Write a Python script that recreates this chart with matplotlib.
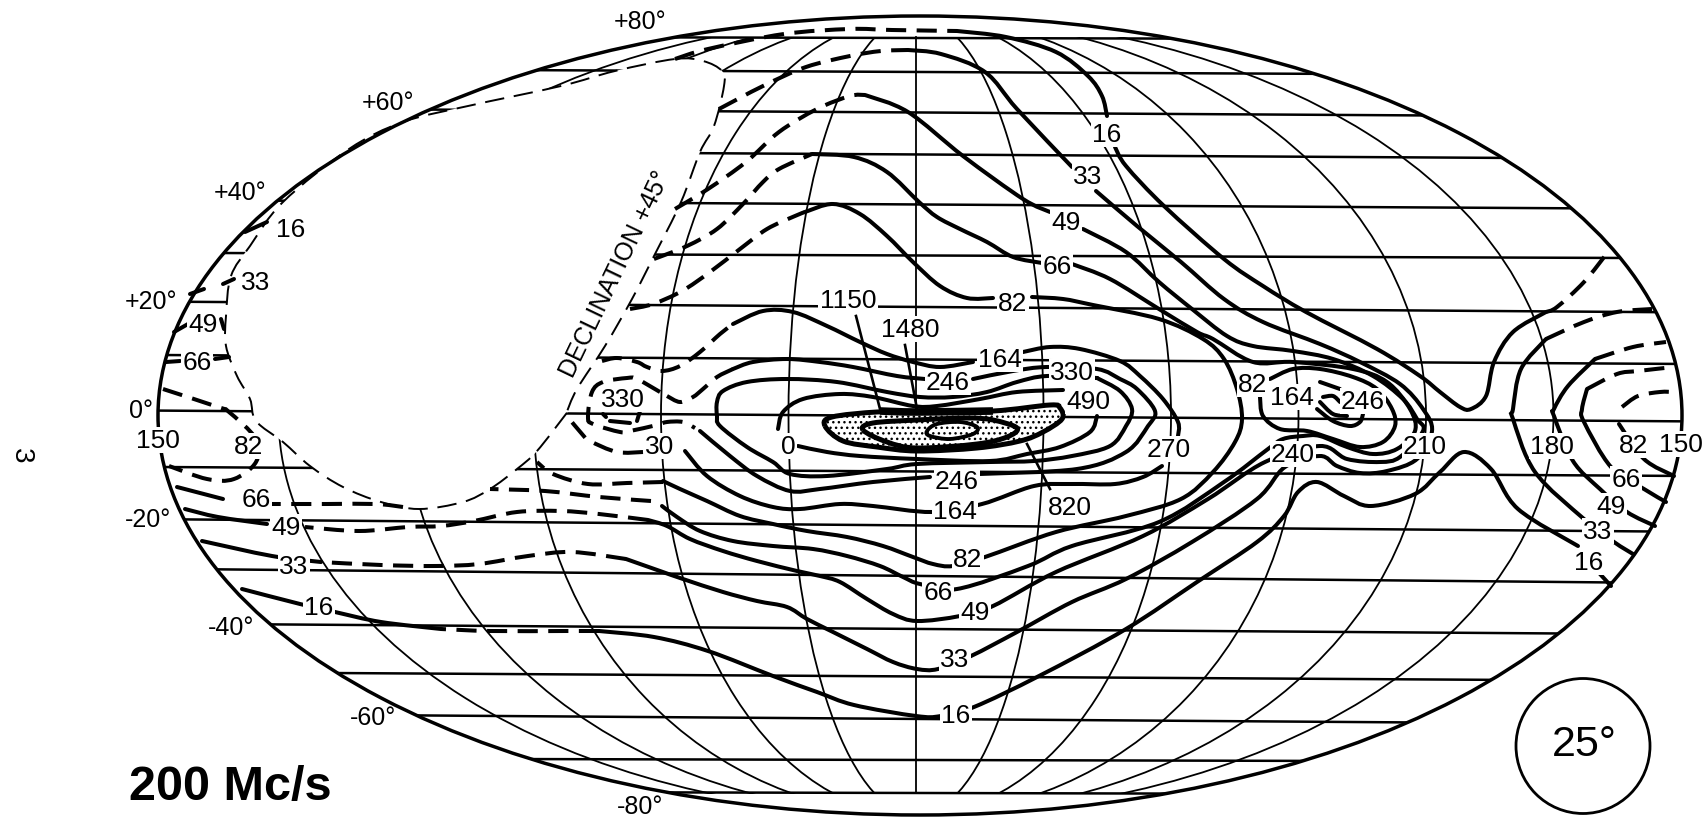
import matplotlib
matplotlib.use("Agg")
import matplotlib.pyplot as plt
from matplotlib.patches import Ellipse, PathPatch, Rectangle
from matplotlib.path import Path

plt.rcParams['font.family'] = ['Liberation Sans', 'DejaVu Sans']
plt.rcParams['hatch.linewidth'] = 1.0

# map graticule, all in scan pixels
lat_left = [38, 71, 111, 153, 203, 255, 305, 358, 414, 470, 523, 573, 627, 675, 717, 760, 793]
lat_right = [40, 75, 116, 158, 208, 258, 311, 363, 420, 475, 530, 581, 633, 680, 723, 762, 795]
meridian_steps = [127.5, 255, 382.5, 510, 637.5]

# blank part of the sky that the survey did not reach
unobserved = [(675, 60), (703, 62), (722, 72), (724, 87), (714, 127), (700, 153), (681, 203), (654, 257),
              (632, 300), (605, 347), (577, 390), (566, 415), (566, 415), (537, 452), (517, 470), (490, 490),
              (463, 503), (419, 510), (381, 503), (343, 488), (310, 467), (283, 443), (256, 422), (250, 400),
              (237, 377), (226, 347), (226, 317), (231, 277), (250, 247), (283, 203), (349, 150), (403, 123),
              (468, 107), (561, 87), (615, 72), (675, 60)]

# contour 16
c16_top_dash = [(675, 60), (708, 50), (784, 35), (850, 30), (892, 31), (957, 32)]
c16_top = [(957, 32), (1006, 38), (1056, 53), (1088, 77), (1102, 97), (1107, 117)]
c16_run = [(1115, 148), (1126, 167), (1164, 207), (1224, 260), (1263, 287), (1306, 313), (1377, 350), (1420, 377),
           (1440, 393), (1460, 408), (1471, 410), (1486, 397), (1494, 363), (1513, 333), (1546, 313)]
c16_run_dash = [(1546, 313), (1557, 308), (1584, 283), (1608, 253)]
c16_low = [(1611, 587), (1600, 575)]
c16_bottom = [(1578, 547), (1518, 510), (1491, 470), (1464, 453), (1440, 473), (1415, 495), (1371, 507), (1344, 497),
              (1317, 483), (1298, 493), (1284, 517), (1257, 543), (1197, 583), (1126, 630), (1039, 677), (974, 708),
              (941, 717), (916, 717), (854, 706), (817, 693), (773, 677), (708, 652), (654, 638), (599, 632)]
c16_bottom_dash = [(599, 632), (566, 632), (490, 632), (441, 630)]
c16_left = [(441, 630), (381, 623), (335, 613), (300, 605), (242, 590)]
c16_tick = [(245, 233), (267, 223)]

# contour 33
c33_top_dash = [(719, 110), (763, 87), (806, 68), (850, 57), (881, 52), (908, 51)]
c33_top = [(908, 51), (941, 55), (985, 73), (1017, 110), (1072, 168)]
c33_run = [(1096, 192), (1137, 227), (1181, 263), (1224, 300), (1263, 323), (1320, 345), (1360, 363), (1400, 385),
           (1423, 410), (1432, 432), (1417, 460), (1387, 472), (1360, 474), (1337, 467), (1320, 457), (1285, 468),
           (1257, 500), (1192, 543), (1126, 580), (1072, 603), (1017, 633), (971, 657), (938, 670), (917, 670),
           (893, 663), (867, 650), (833, 633), (807, 620), (787, 608), (757, 602), (723, 593), (683, 580),
           (660, 572), (626, 560)]
c33_dash = [(626, 560), (572, 553), (528, 557), (479, 565), (436, 567), (381, 566), (321, 563)]
c33_left = [(321, 563), (272, 557), (202, 542)]
c33_right = [(1546, 340), (1521, 370), (1513, 410), (1513, 420), (1535, 473), (1584, 520), (1614, 543), (1633, 555)]
c33_right_dash = [(1546, 340), (1584, 323), (1617, 313), (1652, 310)]
c33_tick_a = [(190, 295), (204, 290)]
c33_tick_b = [(223, 285), (234, 280)]

# contour 49
c49_top_dash = [(675, 210), (708, 190), (746, 163), (779, 133), (817, 110), (850, 97), (865, 96)]
c49_top = [(865, 96), (908, 113), (963, 157), (1023, 200), (1050, 213)]
c49_run = [(1083, 230), (1126, 253), (1159, 283), (1192, 310), (1227, 337), (1253, 347), (1293, 352), (1333, 360),
           (1373, 377), (1403, 400), (1417, 420), (1423, 432), (1400, 458), (1380, 463), (1347, 460), (1320, 447),
           (1265, 463), (1208, 500), (1143, 537), (1056, 573), (993, 607), (960, 617), (917, 622), (893, 615),
           (867, 600), (840, 583), (820, 577), (797, 572), (757, 562), (723, 552), (690, 540), (667, 527), (648, 521)]
c49_dash = [(648, 521), (599, 515), (561, 512), (517, 513), (474, 522), (441, 527), (408, 528), (359, 532), (305, 528)]
c49_left = [(267, 525), (218, 518), (185, 510)]
c49_right = [(1595, 360), (1568, 387), (1554, 410), (1554, 417), (1573, 462), (1600, 490), (1627, 513), (1655, 527)]
c49_right_dash = [(1595, 360), (1633, 348), (1666, 343)]
c49_tick_a = [(174, 333), (188, 325)]
c49_tick_b = [(221, 320), (224, 330)]

# contour 66
c66_top_dash = [(654, 260), (687, 247), (717, 230), (743, 205), (763, 183), (779, 170), (812, 155)]
c66_top = [(812, 155), (854, 158), (887, 173), (919, 203), (937, 218), (960, 230), (987, 243), (1013, 258), (1042, 264)]
c66_run = [(1072, 265), (1110, 280), (1159, 310), (1197, 333), (1213, 340), (1253, 363), (1293, 363), (1353, 370),
           (1387, 383), (1410, 410), (1415, 432), (1397, 450), (1373, 455), (1347, 448), (1320, 437), (1303, 437),
           (1283, 440), (1268, 450), (1224, 483), (1159, 523), (1072, 547), (1028, 567), (957, 590), (920, 585),
           (903, 578), (880, 567), (847, 557), (813, 550), (773, 547), (733, 542), (700, 532), (677, 518), (662, 507)]
c66_dash = [(651, 502), (599, 498), (545, 492), (490, 490)]
c66_left_dash = [(403, 508), (376, 505), (327, 505), (272, 505)]
c66_left = [(223, 500), (177, 488)]
c66_right = [(1587, 390), (1582, 410), (1584, 423), (1611, 468), (1644, 490), (1666, 503)]
c66_right_dash = [(1587, 390), (1617, 375), (1638, 372), (1674, 368)]
c66_tick_a = [(166, 363), (180, 362)]
c66_tick_b = [(215, 360), (229, 358)]

# contour 82
c82_top_dash = [(630, 310), (653, 305), (682, 292), (710, 273), (740, 250), (767, 230), (795, 217), (805, 213)]
c82_top = [(805, 213), (833, 205), (860, 215), (887, 237), (913, 263), (940, 287), (967, 299), (993, 299)]
c82_run = [(1032, 298), (1063, 300), (1093, 306), (1159, 320), (1203, 340), (1224, 360), (1237, 390), (1242, 420),
           (1235, 443), (1213, 473), (1181, 500), (1126, 517), (1056, 533), (985, 558), (953, 567), (933, 565),
           (913, 558), (883, 547), (847, 538), (807, 532), (773, 525), (740, 517), (707, 502), (680, 490), (663, 482)]
c82_dash = [(663, 483), (627, 484), (588, 485), (553, 475), (537, 463)]
c82_left_dash = [(163, 390), (218, 408), (229, 413), (256, 440), (256, 463), (234, 480), (207, 480), (169, 467)]
c82_right_dash = [(1622, 408), (1638, 397), (1660, 393), (1674, 393)]
c82_right_low = [(1619, 425), (1644, 460), (1674, 477)]
c82_loop = [(1260, 398), (1263, 417), (1280, 430), (1307, 432), (1333, 440), (1360, 448), (1383, 443), (1395, 427),
            (1392, 410), (1377, 390), (1353, 378), (1320, 370), (1293, 370), (1270, 380)]

# contour 164
c164_dash = [(602, 362), (617, 359), (637, 363), (647, 368), (662, 372), (680, 367), (700, 353), (720, 335), (733, 325)]
c164_top = [(733, 325), (763, 312), (793, 313), (827, 327), (860, 343), (887, 355), (913, 363), (940, 368), (973, 363)]
c164_right = [(1023, 353), (1050, 348), (1080, 350), (1120, 362), (1140, 377), (1163, 400), (1178, 423), (1178, 437)]
c164_low = [(1162, 467), (1143, 478), (1115, 485), (1072, 485), (1034, 487), (982, 505), (932, 513), (873, 507),
            (840, 505), (800, 510), (773, 508), (740, 497), (707, 477), (685, 452)]
c164_left_dash = [(643, 453), (617, 453), (590, 442), (582, 435), (567, 417)]

# contour 246
c246_top = [(925, 380), (897, 377), (853, 368), (820, 363), (787, 360), (753, 363), (733, 370)]
c246_dash_a = [(733, 370), (717, 378), (703, 390), (693, 398), (680, 403), (667, 397)]
c246_dash_b = [(660, 393), (637, 380), (627, 379), (603, 383), (592, 393), (588, 418), (593, 425), (620, 433),
               (630, 432), (657, 426), (667, 423), (683, 423), (695, 429)]
c246_low = [(700, 432), (730, 457), (757, 477), (790, 492), (820, 490), (873, 483), (930, 478)]
c246_right = [(973, 380), (1013, 372), (1047, 368), (1097, 370), (1120, 380), (1137, 390), (1155, 412), (1148, 427),
              (1126, 453), (1077, 470), (979, 475)]
c246_spot_a = [(1320, 383), (1340, 390)]
c246_spot_b = [(1323, 398), (1333, 397), (1340, 403)]
c246_spot_c = [(1317, 410), (1333, 422), (1350, 427), (1360, 423), (1363, 415)]
c246_spot_d = [(1320, 403), (1333, 415), (1347, 417)]

# contour 330, 490
c330_loop = [(1097, 379), (1047, 377), (1017, 383), (987, 393), (953, 398), (920, 398), (887, 393), (837, 383),
             (787, 380), (747, 383), (723, 392), (717, 403), (717, 417), (720, 427), (747, 448), (773, 463),
             (790, 475), (827, 477), (887, 470), (917, 465), (990, 463), (1034, 462), (1072, 457), (1110, 447),
             (1126, 427), (1132, 410), (1120, 392), (1097, 379)]
c330_spot_a = [(603, 415), (606, 418)]
c330_spot_b = [(640, 412), (637, 422)]
c330_spot_c = [(610, 422), (630, 424)]
c490_loop = [(778, 430), (783, 413), (803, 400), (840, 395), (873, 398), (913, 407), (937, 407), (980, 400),
             (1017, 393), (1063, 391)]
c490_low = [(798, 447), (827, 453), (860, 457), (917, 460), (990, 462), (1027, 455), (1060, 448), (1090, 433), (1097, 417)]

# stippled core
c820_core = [(825, 427), (832, 418), (877, 413), (917, 413), (993, 412), (1050, 406), (1060, 409), (1062, 420),
             (1043, 433), (1020, 442), (977, 449), (917, 452), (877, 448), (843, 442)]
c820_rim = [(880, 412), (917, 413), (993, 412)]
c1150_core = [(863, 431), (873, 424), (917, 421), (967, 419), (993, 421), (1017, 429), (1007, 438), (977, 445),
              (917, 449), (887, 443)]
c1480_core = [(927, 432), (937, 425), (960, 423), (977, 428), (973, 435), (950, 440), (930, 437)]

# lines from a label to its contour
pointer_1150 = [(856, 317), (880, 410)]
pointer_1480 = [(905, 346), (917, 410)]
pointer_820 = [(1027, 445), (1050, 490)]

solid_lines = [c16_top, c16_run, c16_low, c16_bottom, c16_left, c16_tick, c33_top, c33_run, c33_left, c33_right,
               c33_tick_a, c33_tick_b, c49_top, c49_run, c49_left, c49_right, c49_tick_a, c49_tick_b,
               c66_top, c66_run, c66_left, c66_right, c66_tick_a, c66_tick_b, c82_top, c82_run, c82_right_low,
               c82_loop, c164_top, c164_right, c164_low, c246_top, c246_low, c246_right, c246_spot_c, c246_spot_d,
               c330_loop, c490_loop, c490_low]
dashed_lines = [c16_top_dash, c16_run_dash, c16_bottom_dash, c33_top_dash, c33_dash, c33_right_dash, c49_top_dash,
                c49_dash, c49_right_dash, c66_top_dash, c66_dash, c66_left_dash, c66_right_dash, c82_top_dash,
                c82_dash, c82_left_dash, c82_right_dash, c164_dash, c164_left_dash, c246_dash_a, c246_dash_b]
short_lines = [c246_spot_a, c246_spot_b, c330_spot_a, c330_spot_b, c330_spot_c]
pointers = [pointer_1150, pointer_1480, pointer_820]

# contour numbers
contour_labels = [("16", 1107, 135), ("33", 1088, 177), ("49", 1066, 223), ("66", 1057, 267), ("82", 1013, 304),
                  ("1150", 848, 301), ("1480", 910, 330), ("164", 1000, 360), ("246", 948, 383), ("330", 1072, 373),
                  ("490", 1088, 402), ("82", 1253, 385), ("164", 1292, 398), ("246", 1363, 402), ("330", 623, 400),
                  ("246", 957, 482), ("164", 955, 512), ("820", 1070, 508), ("82", 968, 560), ("66", 938, 593),
                  ("49", 975, 613), ("33", 955, 660), ("16", 956, 716), ("82", 249, 447), ("66", 256, 500),
                  ("49", 286, 528), ("33", 294, 567), ("16", 319, 608), ("16", 291, 230), ("33", 256, 283),
                  ("49", 203, 325), ("66", 197, 363), ("66", 1626, 480), ("49", 1611, 507), ("33", 1598, 532),
                  ("16", 1589, 563), ("82", 1634, 446)]
lon_labels = [("150", 158, 441), ("30", 660, 447), ("0", 788, 447), ("270", 1169, 450), ("240", 1293, 455),
              ("210", 1425, 447), ("180", 1552, 447), ("150", 1681, 445)]
lat_labels = [("+80°", 640, 22), ("+60°", 388, 103), ("+40°", 240, 193), ("+20°", 151, 302), ("0°", 141, 411),
              ("-20°", 148, 520), ("-40°", 231, 628), ("-60°", 373, 718), ("-80°", 640, 807)]


def smooth_path(pts, closed=False):
    # catmull-rom through the read points, handed to matplotlib as bezier segments
    if closed:
        p = [pts[-2]] + list(pts) + [pts[1]]
    else:
        p = [pts[0]] + list(pts) + [pts[-1]]
    verts = [p[1]]
    codes = [Path.MOVETO]
    for i in range(1, len(p) - 2):
        c1 = (p[i][0] + (p[i + 1][0] - p[i - 1][0]) / 6, p[i][1] + (p[i + 1][1] - p[i - 1][1]) / 6)
        c2 = (p[i + 1][0] - (p[i + 2][0] - p[i][0]) / 6, p[i + 1][1] - (p[i + 2][1] - p[i][1]) / 6)
        verts += [c1, c2, p[i + 1]]
        codes += [Path.CURVE4, Path.CURVE4, Path.CURVE4]
    return Path(verts, codes)


def add_curve(ax, pts, closed=False, **kw):
    patch = PathPatch(smooth_path(pts, closed), **kw)
    ax.add_patch(patch)
    return patch


fig = plt.figure(figsize=(17.08, 8.2), dpi=100)
ax = fig.add_axes([0, 0, 1, 1])
ax.set_xlim(0, 1708)
ax.set_ylim(820, 0)
ax.axis('off')

outline = Ellipse((920, 416.5), 1524, 799, fc='none', ec='black', lw=2.5, zorder=3)
ax.add_patch(outline)
clip_oval = Ellipse((920, 416.5), 1524, 799, transform=ax.transData)

for yl, yr in zip(lat_left, lat_right):
    line = ax.axline((500, yl), (1350, yr), color='black', lw=1.8, zorder=1)
    line.set_clip_path(clip_oval)

grat_box = Rectangle((100, 38), 1500, 757, transform=ax.transData)
ax.plot([916, 916], [38, 794], color='black', lw=1.3, zorder=1)
for step in meridian_steps:
    # each oval gives the meridian pair either side of the central one
    m = Ellipse((916, 416.5), 2 * step, 799, fc='none', ec='black', lw=1.3, zorder=1)
    ax.add_patch(m)
    m.set_clip_path(grat_box)

add_curve(ax, unobserved, closed=True, fc='white', ec='black', lw=1.4, ls=(0, (10, 5)), zorder=2)

for seg in solid_lines:
    add_curve(ax, seg, fc='none', ec='black', lw=2.9, capstyle='round', zorder=4)
for seg in dashed_lines:
    add_curve(ax, seg, fc='none', ec='black', lw=2.9, ls=(0, (5, 2.6)), zorder=4)
for seg in short_lines:
    add_curve(ax, seg, fc='none', ec='black', lw=2.9, capstyle='round', zorder=4)
for seg in pointers:
    ax.plot([seg[0][0], seg[1][0]], [seg[0][1], seg[1][1]], color='black', lw=1.9, zorder=5)

add_curve(ax, c820_core + c820_core[:1], closed=True, fc='white', ec='black', lw=3.6, hatch='...', zorder=5)
add_curve(ax, c1150_core + c1150_core[:1], closed=True, fc='white', ec='black', lw=3.6, hatch='...', zorder=5)
add_curve(ax, c1480_core + c1480_core[:1], closed=True, fc='white', ec='black', lw=2.8, hatch='...', zorder=5)
add_curve(ax, c820_rim, fc='none', ec='black', lw=5.5, zorder=5)

box = dict(fc='white', ec='none', pad=1.0)
for name, x, y in contour_labels + lon_labels:
    ax.text(x, y, name, fontsize=19, ha='center', va='center', bbox=box, zorder=6)
for name, x, y in lat_labels:
    ax.text(x, y, name, fontsize=18, ha='center', va='center', zorder=6)

ax.text(615, 274, "DECLINATION +45°", fontsize=18, rotation=64.4, ha='center', va='center',
        rotation_mode='anchor', zorder=6)
ax.text(230, 788, "200 Mc/s", fontsize=35, fontweight='bold', ha='center', va='center', zorder=6)
ax.text(21, 456, "3", fontsize=20, rotation=-90, ha='center', va='center', zorder=6)

ax.add_patch(Ellipse((1583, 747), 134, 135, fc='none', ec='black', lw=2.0))
ax.text(1584, 745, "25°", fontsize=31, ha='center', va='center')

fig.savefig('out.png', dpi=100)
